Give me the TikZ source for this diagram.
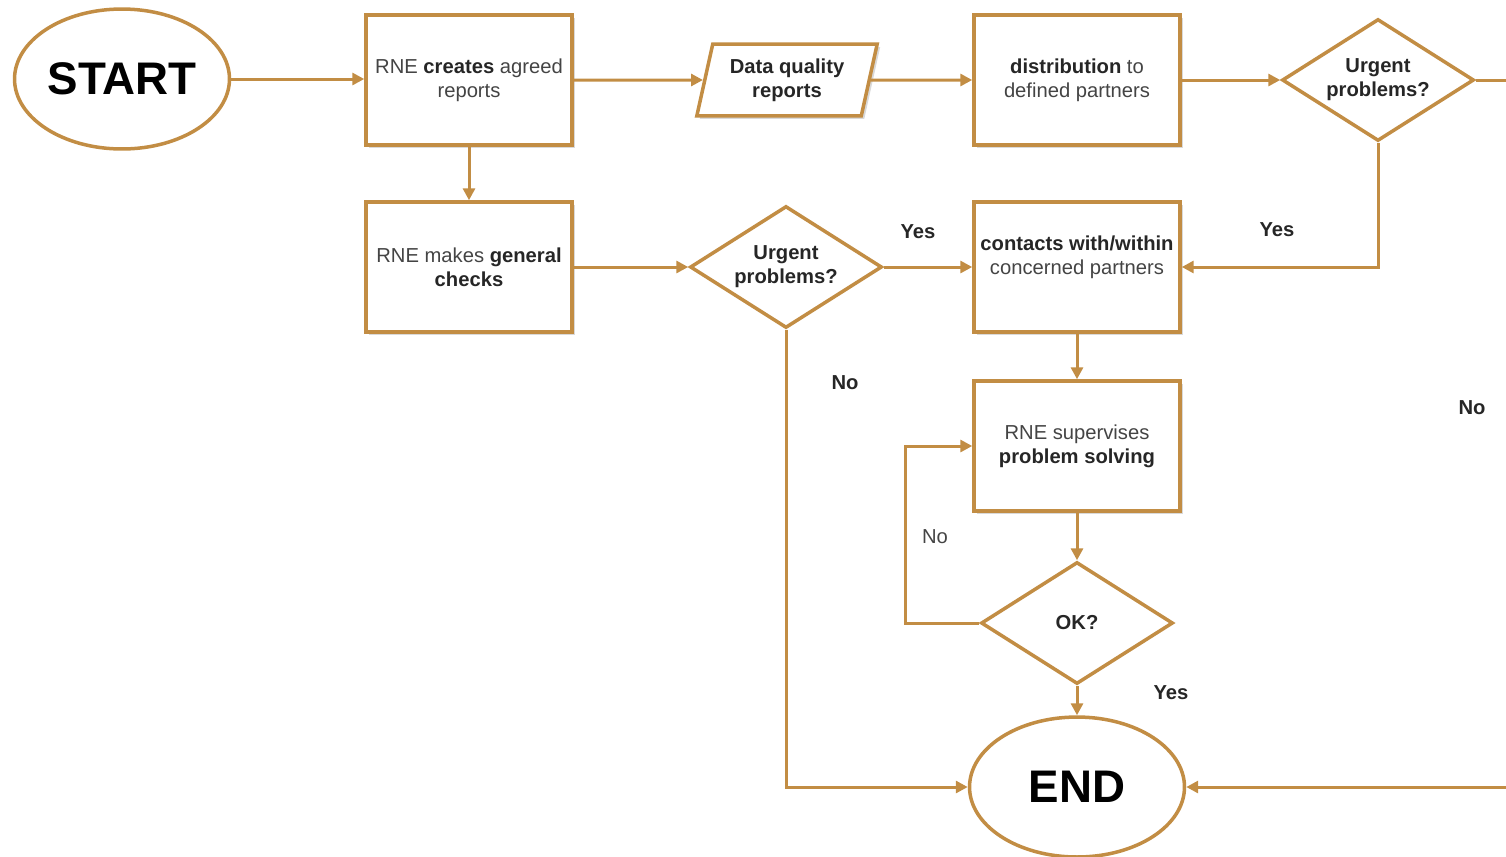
\documentclass[tikz,border=0pt]{standalone}
\usepackage{fontspec}
\setmainfont{Liberation Sans}
\usetikzlibrary{shapes.geometric,shadows,arrows.meta}
\definecolor{gold}{RGB}{194,141,68}
\definecolor{txtgray}{RGB}{68,68,68}
\newcommand{\bolder}[1]{{\bfseries\color{black!85}#1}}

\begin{document}
\begin{tikzpicture}[x=0.02cm,y=-0.02cm,
  font=\fontsize{11.5}{13.7}\selectfont, text=txtgray,
  box/.style={draw=gold, line width=0.07cm, fill=white, minimum width=4.12cm, minimum height=2.6cm,
    inner sep=1pt, align=center, drop shadow={opacity=0.3, shadow xshift=0.06cm, shadow yshift=-0.06cm}},
  term/.style={ellipse, draw=gold, line width=0.07cm, fill=white, minimum width=4.3cm, minimum height=2.8cm,
    inner sep=0pt, text=black, font=\fontsize{26}{30}\selectfont\bfseries},
  decision/.style={diamond, aspect=1.55, draw=gold, line width=0.07cm, fill=white, minimum width=3.84cm,
    minimum height=2.44cm, inner sep=0pt, align=center, text=black!85, font=\fontsize{11.5}{13.7}\selectfont\bfseries},
  data/.style={trapezium, trapezium left angle=74, trapezium right angle=106, trapezium stretches=true,
    draw=gold, line width=0.07cm, fill=white, minimum width=3.62cm, minimum height=1.44cm, inner sep=0pt,
    align=center, text=black!85, font=\fontsize{11.5}{13.7}\selectfont\bfseries,
    drop shadow={opacity=0.3, shadow xshift=0.06cm, shadow yshift=-0.06cm}},
  flow/.style={draw=gold, line width=0.06cm, -{Triangle[length=0.24cm,width=0.24cm]}},
  link/.style={draw=gold, line width=0.06cm},
  answer/.style={text=black!85, font=\fontsize{11.5}{13.7}\selectfont\bfseries}]

\useasboundingbox (0,0) rectangle (1506,856);

\node[term] (start) at (122,79) {START};
\node[box] (create) at (469,80) {RNE \bolder{creates} agreed\\reports};
\node[data] (dq) at (787,80) {Data quality\\reports};
\node[box] (distrib) at (1077,80) {\bolder{distribution} to\\defined partners};
\node[decision] (urgtop) at (1378,80) {Urgent\\problems?};

\node[box] (checks) at (469,267) {RNE makes \bolder{general}\\\bolder{checks}};
\node[decision] (urgmid) at (786,267) {Urgent\\problems?};
\node[box] (contact) at (1077,267) {\bolder{contacts with/within}\\concerned partners\\\mbox{}};

\node[box] (superv) at (1077,446) {RNE supervises\\\bolder{problem solving}};
\node[decision] (ok) at (1077,623) {OK?};
\node[term] (end) at (1077,787) {END};

\coordinate (loop) at (905,623);
\coordinate (outtop) at (1506,80);
\coordinate (outbot) at (1506,787);

\draw[flow] (start) -- (start -| create.west);
\draw[flow] (create) -- (dq);
\draw[flow] (dq) -- (distrib);
\draw[flow] (distrib) -- (urgtop);
\draw[link] (urgtop.east) -- (outtop);
\draw[flow] (urgtop.south) |- (contact.east);
\draw[flow] (create) -- (checks);
\draw[flow] (checks) -- (urgmid);
\draw[flow] (urgmid) -- (contact);
\draw[flow] (urgmid.south) |- (end.west);
\draw[flow] (contact) -- (superv);
\draw[flow] (superv) -- (ok);
\draw[flow] (ok.west) -- (loop) |- (superv.west);
\draw[flow] (ok) -- (end);
\draw[flow] (outbot) -- (end.east);

\node[answer] (yestop) at (1277,230) {Yes};
\node[answer] (yesmid) at (918,232) {Yes};
\node[answer] (nomid) at (845,383) {No};
\node[answer] (notop) at (1472,408) {No};
\node (nook) at (935,537) {No};
\node[answer] (yesok) at (1171,693) {Yes};
\end{tikzpicture}
\end{document}
